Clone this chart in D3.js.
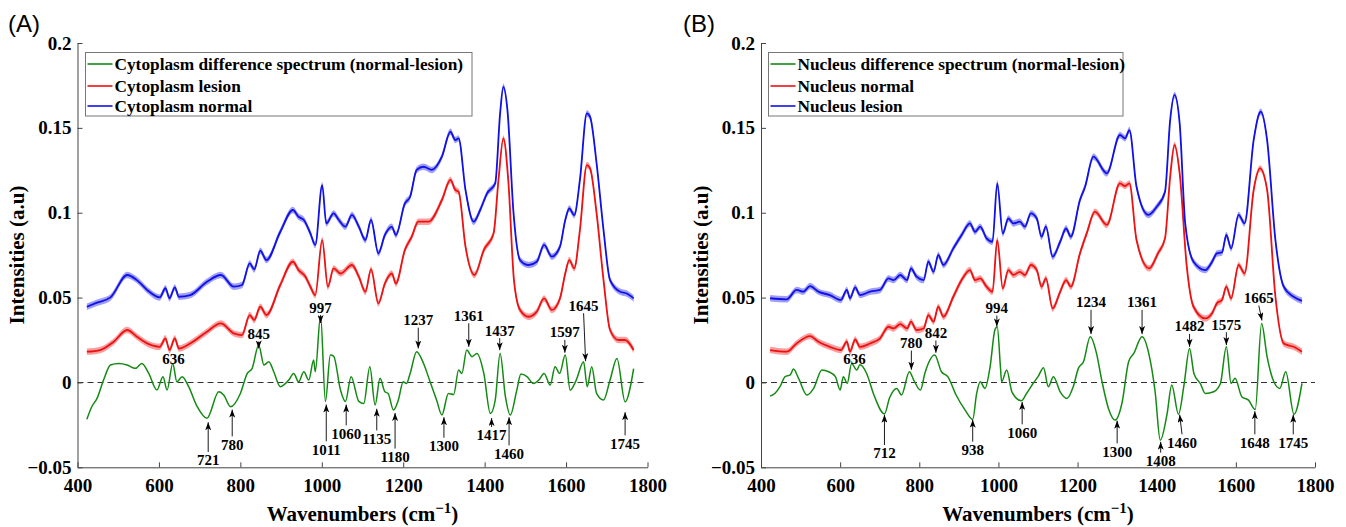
<!DOCTYPE html>
<html>
<head>
<meta charset="utf-8">
<title>Raman spectra - cytoplasm and nucleus</title>
<style>
  body { margin: 0; background: #fff; }
  text { font-family: "Liberation Serif", "Times New Roman", serif; }
</style>
</head>
<body>
<script src="https://d3js.org/d3.v7.min.js"></script>
<script>

// ---- data: [wavenumber, intensity] ----
var cytoNormal = [[423,0.0446],[448,0.047],[481,0.0501],[522,0.0633],[546,0.0603],[571,0.0545],[602,0.0501],[616,0.0555],[626,0.0496],[639,0.056],[649,0.0505],[677,0.0515],[718,0.0593],[752,0.0633],[784,0.0564],[804,0.0574],[823,0.0701],[834,0.0666],[849,0.0776],[864,0.0721],[898,0.0888],[929,0.1016],[943,0.0976],[956,0.0957],[972,0.0878],[984,0.081],[1001,0.1163],[1011,0.0937],[1029,0.0996],[1042,0.0957],[1058,0.0918],[1074,0.0987],[1091,0.0918],[1107,0.0839],[1121,0.0957],[1139,0.0761],[1155,0.0869],[1172,0.0917],[1182,0.0869],[1204,0.1055],[1217,0.1094],[1233,0.1252],[1250,0.1271],[1270,0.1252],[1295,0.133],[1316,0.1477],[1328,0.1428],[1336,0.1438],[1353,0.1134],[1373,0.0947],[1389,0.1016],[1406,0.1114],[1426,0.1173],[1438,0.1585],[1446,0.1742],[1456,0.1605],[1471,0.0996],[1487,0.0721],[1508,0.0692],[1528,0.0711],[1546,0.081],[1565,0.0741],[1585,0.08],[1598,0.0957],[1608,0.1025],[1620,0.0986],[1634,0.1193],[1651,0.1585],[1659,0.1565],[1675,0.129],[1692,0.0898],[1708,0.0603],[1733,0.0534],[1749,0.0524],[1766,0.0495]];

var cytoLesion = [[423,0.0181],[456,0.0191],[489,0.024],[522,0.0309],[546,0.0269],[571,0.023],[602,0.021],[616,0.026],[626,0.0191],[639,0.026],[649,0.02],[677,0.023],[718,0.0299],[752,0.0348],[784,0.0289],[804,0.0279],[823,0.0397],[834,0.0368],[849,0.0446],[864,0.0397],[898,0.0574],[929,0.0711],[943,0.0662],[960,0.0623],[972,0.0564],[984,0.0515],[1001,0.0839],[1015,0.0564],[1029,0.0672],[1046,0.0642],[1074,0.0692],[1091,0.0623],[1107,0.0534],[1121,0.0666],[1139,0.0466],[1155,0.0583],[1172,0.0642],[1182,0.0583],[1204,0.078],[1221,0.0859],[1237,0.0947],[1262,0.0947],[1295,0.1075],[1316,0.1193],[1328,0.1134],[1336,0.1124],[1353,0.08],[1375,0.0633],[1398,0.078],[1422,0.0878],[1434,0.1193],[1446,0.1438],[1458,0.1193],[1472,0.0603],[1487,0.0427],[1508,0.0387],[1528,0.0417],[1546,0.0495],[1565,0.0427],[1585,0.0495],[1598,0.0642],[1608,0.0721],[1620,0.0672],[1634,0.0898],[1651,0.1281],[1659,0.1261],[1675,0.0996],[1692,0.0603],[1708,0.0309],[1729,0.025],[1745,0.025],[1766,0.0191]];

var cytoDiff = [[423,-0.0217],[435,-0.0143],[448,-0.0094],[464,0.0014],[481,0.0103],[501,0.0112],[522,0.0103],[542,0.0083],[558,0.0112],[575,0.0053],[595,-0.0045],[610,0.0034],[620,-0.0045],[634,0.0112],[644,0.0004],[657,0.0034],[673,-0.0025],[694,-0.0143],[718,-0.0211],[747,-0.0055],[759,-0.0074],[776,-0.0143],[800,-0.0065],[817,0.0053],[829,0.0083],[845,0.022],[858,0.0103],[870,0.0122],[882,0.0063],[898,-0.0025],[919,0.0014],[931,0.0053],[943,0.0004],[956,0.0063],[968,0.0014],[980,0.0132],[984,0.0063],[997,0.0395],[1009,-0.0112],[1021,0.0161],[1029,0.0155],[1046,-0.0045],[1058,-0.0112],[1072,0.0034],[1091,-0.0112],[1103,-0.0124],[1118,0.0093],[1131,-0.0133],[1143,0.0024],[1155,-0.0055],[1163,-0.0065],[1176,-0.0163],[1188,-0.0104],[1200,0.0004],[1208,-0.0006],[1217,0.0053],[1233,0.0181],[1250,0.0112],[1266,0.0004],[1282,-0.0104],[1295,-0.0192],[1311,-0.0065],[1324,-0.0071],[1336,0.0073],[1344,0.0053],[1356,0.0191],[1369,0.0152],[1381,0.0171],[1398,0.0053],[1414,-0.0183],[1426,-0.0104],[1438,0.0171],[1451,-0.0084],[1463,-0.0192],[1479,-0.0045],[1489,0.0049],[1504,0.0034],[1520,-0.0006],[1533,0.0014],[1546,0.0053],[1561,-0.0015],[1573,0.0093],[1584,0.0053],[1598,0.0161],[1610,-0.0045],[1625,0.0014],[1643,0.0122],[1652,-0.0025],[1663,0.0093],[1675,-0.0065],[1692,-0.0104],[1708,0.0014],[1725,0.0141],[1745,-0.0114],[1766,0.0082]];

var nucLesion = [[423,0.0496],[465,0.049],[490,0.0545],[507,0.0535],[524,0.0568],[545,0.0535],[574,0.0515],[602,0.0486],[617,0.0545],[625,0.0496],[638,0.056],[650,0.0515],[676,0.0535],[701,0.0545],[722,0.0613],[735,0.0603],[752,0.0633],[769,0.0603],[779,0.0672],[793,0.0623],[811,0.0603],[823,0.0711],[836,0.0652],[848,0.0751],[861,0.0692],[886,0.079],[907,0.0869],[928,0.0937],[941,0.0888],[954,0.0918],[970,0.0849],[985,0.0829],[997,0.1173],[1011,0.0878],[1025,0.0966],[1038,0.0937],[1054,0.0947],[1067,0.0918],[1082,0.0996],[1097,0.0966],[1109,0.0859],[1120,0.0918],[1137,0.0741],[1156,0.0829],[1171,0.0907],[1183,0.0859],[1206,0.1075],[1219,0.1153],[1240,0.133],[1274,0.1232],[1307,0.1458],[1320,0.1438],[1331,0.1487],[1349,0.1153],[1379,0.0987],[1400,0.1035],[1421,0.1124],[1434,0.1546],[1445,0.1694],[1458,0.1526],[1472,0.0937],[1493,0.0711],[1523,0.0662],[1540,0.0711],[1552,0.076],[1565,0.0766],[1576,0.0869],[1588,0.079],[1607,0.0987],[1622,0.0937],[1645,0.1428],[1663,0.1595],[1679,0.1428],[1700,0.0839],[1721,0.0564],[1746,0.0505],[1767,0.0481]];

var nucNormal = [[423,0.0191],[465,0.0181],[490,0.023],[524,0.0273],[545,0.024],[574,0.021],[602,0.0191],[617,0.024],[625,0.0181],[638,0.0253],[650,0.021],[676,0.023],[701,0.026],[722,0.0328],[735,0.0318],[752,0.0344],[769,0.0318],[779,0.0358],[793,0.0309],[811,0.0318],[823,0.0397],[836,0.0358],[848,0.0446],[861,0.0387],[886,0.0505],[907,0.0603],[928,0.0662],[941,0.0603],[954,0.0613],[970,0.0564],[985,0.0534],[997,0.0839],[1011,0.0554],[1025,0.0662],[1038,0.0633],[1054,0.0652],[1067,0.0633],[1082,0.0692],[1097,0.0662],[1109,0.0564],[1120,0.0613],[1137,0.0436],[1156,0.0534],[1171,0.0603],[1183,0.0564],[1206,0.076],[1223,0.0878],[1244,0.1006],[1274,0.0928],[1307,0.1173],[1320,0.1157],[1331,0.1173],[1349,0.0839],[1381,0.0672],[1403,0.076],[1421,0.0849],[1434,0.1212],[1445,0.1399],[1458,0.1232],[1476,0.0682],[1493,0.0446],[1523,0.0377],[1540,0.0407],[1552,0.0466],[1565,0.0486],[1576,0.0564],[1588,0.0495],[1607,0.0692],[1622,0.0642],[1645,0.1134],[1661,0.1261],[1679,0.1134],[1700,0.0505],[1721,0.023],[1746,0.021],[1767,0.0181]];

var nucDiff = [[423,-0.008],[435,-0.0065],[448,-0.0025],[461,0.0034],[474,0.0044],[482,0.0079],[495,0.0024],[516,-0.0074],[533,-0.0035],[554,0.0073],[571,0.0063],[588,0.0034],[600,-0.0045],[608,0.0034],[618,-0.0005],[629,0.0112],[642,0.0073],[650,0.0104],[667,0.0053],[684,-0.0065],[712,-0.0185],[725,-0.009],[743,-0.0035],[755,-0.0074],[775,0.0063],[786,0.0014],[803,-0.0045],[814,0.0053],[839,0.0161],[856,0.0063],[872,0.0034],[893,-0.0074],[915,-0.016],[935,-0.0218],[945,-0.0065],[954,0.0004],[966,-0.0035],[979,0.0093],[991,0.0309],[997,0.0328],[1005,0.0093],[1008,0.0004],[1021,0.0073],[1034,-0.0055],[1058,-0.0108],[1071,-0.0065],[1088,-0.0005],[1100,0.0034],[1114,0.0087],[1126,-0.0025],[1139,0.0034],[1156,-0.0055],[1173,-0.0094],[1189,-0.0025],[1202,0.0083],[1215,0.0122],[1232,0.0269],[1248,0.017],[1261,0.0014],[1278,-0.0153],[1295,-0.0222],[1312,-0.0124],[1329,0.0122],[1342,0.0171],[1363,0.0269],[1380,0.017],[1396,-0.0055],[1409,-0.034],[1426,-0.0188],[1438,-0.0015],[1455,-0.0188],[1469,-0.0015],[1483,0.02],[1494,0.0053],[1510,-0.0006],[1523,-0.0065],[1544,-0.0055],[1561,-0.0006],[1576,0.021],[1588,-0.0006],[1598,0.0024],[1615,-0.0084],[1632,-0.0104],[1649,-0.016],[1665,0.0348],[1679,0.0151],[1696,0.0004],[1711,-0.0035],[1726,0.0063],[1747,-0.0188],[1767,-0.0006]];

// spread of the shaded bands (+/-)
var bandHalf = 0.0019;

var xTicks = [400, 600, 800, 1000, 1200, 1400, 1600, 1800];
var yTicks = [-0.05, 0, 0.05, 0.1, 0.15, 0.2];

// peak labels: [text, arrow wavenumber, label value, arrow tip value (null = no arrow), label wavenumber]
var cytoPeaks = [
  ["636", 636, 0.014, null],
  ["845", 845, 0.0288, 0.0200],
  ["997", 997, 0.0443, 0.0350],
  ["1237", 1237, 0.0370, 0.0200],
  ["1361", 1361, 0.0396, 0.0210],
  ["1437", 1437, 0.0308, 0.0190],
  ["1597", 1597, 0.0298, 0.0175],
  ["1645", 1648, 0.0455, 0.0125, 1643],
  ["721", 721, -0.0457, -0.0235],
  ["780", 780, -0.0365, -0.0160],
  ["1011", 1011, -0.0394, -0.0130],
  ["1060", 1060, -0.0300, -0.0130],
  ["1135", 1135, -0.0330, -0.0155],
  ["1180", 1180, -0.0437, -0.0180],
  ["1300", 1300, -0.0373, -0.0205],
  ["1417", 1417, -0.0310, -0.0210],
  ["1460", 1460, -0.0418, -0.0205],
  ["1745", 1745, -0.0359, -0.0175]
];
var nucPeaks = [
  ["636", 636, 0.0141, null],
  ["780", 780, 0.0235, 0.0075],
  ["842", 842, 0.0294, 0.0175],
  ["994", 996, 0.0441, 0.0330],
  ["1234", 1234, 0.0475, 0.0285],
  ["1361", 1363, 0.0475, 0.0285],
  ["1482", 1483, 0.0333, 0.0210],
  ["1575", 1576, 0.0343, 0.0220],
  ["1665", 1666, 0.0500, 0.0365, 1658],
  ["712", 712, -0.0416, -0.0190],
  ["938", 935, -0.0396, -0.0220],
  ["1060", 1060, -0.0294, -0.0115],
  ["1300", 1300, -0.0406, -0.0225],
  ["1408", 1410, -0.0461, -0.0350],
  ["1460", 1458, -0.0353, -0.0190, 1464],
  ["1648", 1648, -0.0353, -0.0170],
  ["1745", 1745, -0.0353, -0.0190]
];

var legendA = ["Cytoplasm difference spectrum (normal-lesion)", "Cytoplasm lesion", "Cytoplasm normal"];
var legendB = ["Nucleus difference spectrum (normal-lesion)", "Nucleus normal", "Nucleus lesion"];

var GREEN = "#138a13", RED = "#ee1111", BLUE = "#1010e8";
var SERIF = "'Liberation Serif', 'Times New Roman', serif";

var svg = d3.select("body").append("svg")
    .attr("width", 1346).attr("height", 527)
    .style("background", "#fff");

var defs = svg.append("defs");
defs.append("marker")
    .attr("id", "arrow")
    .attr("markerUnits", "userSpaceOnUse")
    .attr("markerWidth", 8).attr("markerHeight", 6)
    .attr("refX", 8).attr("refY", 3)
    .attr("orient", "auto")
  .append("path")
    .attr("d", "M0,0 L8,3 L0,6 L2,3 Z")
    .attr("fill", "#000");

function drawPanel(p) {
  var x = d3.scaleLinear().domain([400, 1800]).range([p.left, p.right]);
  var y = d3.scaleLinear().domain([-0.05, 0.2]).range([467.3, 43]);
  var g = svg.append("g").style("font-family", SERIF);

  // panel letter
  g.append("text").attr("x", p.tagX).attr("y", 32)
    .style("font-family", "Arial, 'Liberation Sans', sans-serif")
    .style("font-size", "24px").text(p.tag);

  // zero line
  g.append("line")
    .attr("x1", x(400)).attr("x2", x(1800))
    .attr("y1", y(0)).attr("y2", y(0))
    .attr("stroke", "#333").attr("stroke-width", 1.1)
    .attr("stroke-dasharray", "6,4");

  var line = d3.line().x(function(d) { return x(d[0]); })
      .y(function(d) { return y(d[1]); }).curve(d3.curveMonotoneX);
  var band = d3.area().x(function(d) { return x(d[0]); })
      .y0(function(d) { return y(d[1] - bandHalf); })
      .y1(function(d) { return y(d[1] + bandHalf); })
      .curve(d3.curveMonotoneX);

  // difference spectrum
  g.append("path").datum(p.diff).attr("d", line)
    .attr("fill", "none").attr("stroke", GREEN).attr("stroke-width", 1.5);

  [[p.red, RED], [p.blue, BLUE]].forEach(function(s) {
    g.append("path").datum(s[0]).attr("d", band)
      .attr("fill", s[1]).attr("fill-opacity", 0.4);
    g.append("path").datum(s[0]).attr("d", line)
      .attr("fill", "none").attr("stroke", s[1]).attr("stroke-width", 1.8);
  });

  // axes
  var ax = g.append("g").attr("transform", "translate(0," + y(-0.05) + ")")
    .call(d3.axisBottom(x).tickValues(xTicks).tickSizeInner(-5).tickSizeOuter(0).tickPadding(11)
      .tickFormat(d3.format("d")));
  var ay = g.append("g").attr("transform", "translate(" + x(400) + ",0)")
    .call(d3.axisLeft(y).tickValues(yTicks).tickSizeInner(-5).tickSizeOuter(0).tickPadding(6)
      .tickFormat(function(v) { return v === 0 ? "0" : String(v).replace("-", "\u2212"); }));
  [ax, ay].forEach(function(a) {
    a.attr("font-family", null);
    a.selectAll("path, line").attr("stroke", "#444");
    a.selectAll("text").attr("fill", "#000")
      .style("font-family", SERIF)
      .style("font-size", "19px").style("font-weight", "bold");
  });

  // axis titles
  var cx = (p.left + p.right) / 2;
  var xt = g.append("text").attr("x", cx).attr("y", 521)
    .attr("text-anchor", "middle")
    .style("font-size", "21px").style("font-weight", "bold");
  xt.append("tspan").text("Wavenumbers (cm");
  xt.append("tspan").attr("dy", -8).style("font-size", "15px").text("\u22121");
  xt.append("tspan").attr("dy", 8).text(")");

  g.append("text")
    .attr("transform", "translate(" + p.yTitleX + ",255) rotate(-90)")
    .attr("text-anchor", "middle")
    .style("font-size", "21px").style("font-weight", "bold")
    .text("Intensities (a.u)");

  // peak annotations
  p.peaks.forEach(function(a) {
    var lx = a[4] !== undefined ? a[4] : a[1];
    var ly = y(a[2]);
    g.append("text").attr("x", x(lx)).attr("y", ly).attr("dy", "0.36em")
      .attr("text-anchor", "middle")
      .style("font-size", "15px").style("font-weight", "bold")
      .text(a[0]);
    if (a[3] === null) return;
    var up = a[3] < a[2];
    g.append("line")
      .attr("x1", x(lx)).attr("y1", up ? ly + 8 : ly - 8)
      .attr("x2", x(a[1])).attr("y2", y(a[3]))
      .attr("stroke", "#000").attr("stroke-width", 0.9)
      .attr("marker-end", "url(#arrow)");
  });

  // legend
  var lg = g.append("g");
  lg.append("rect").attr("x", p.legX).attr("y", 52.5)
    .attr("width", p.legW).attr("height", 63.5)
    .attr("fill", "#fff").attr("stroke", "#777").attr("stroke-width", 1);
  var rowsY = [64, 86, 106];
  [GREEN, RED, BLUE].forEach(function(c, i) {
    lg.append("line").attr("x1", p.legX + 2).attr("x2", p.legX + 27)
      .attr("y1", rowsY[i]).attr("y2", rowsY[i])
      .attr("stroke", c).attr("stroke-width", 1.6);
    lg.append("text").attr("x", p.legX + 29).attr("y", rowsY[i] + 6)
      .style("font-size", "17.3px").style("font-weight", "bold")
      .text(p.legend[i]);
  });
}

drawPanel({ tag: "(A)", tagX: 8, left: 77.5, right: 647.5, yTitleX: 24,
  diff: cytoDiff, red: cytoLesion, blue: cytoNormal, peaks: cytoPeaks,
  legend: legendA, legX: 85.5, legW: 386.5 });

drawPanel({ tag: "(B)", tagX: 683, left: 761, right: 1315, yTitleX: 708,
  diff: nucDiff, red: nucNormal, blue: nucLesion, peaks: nucPeaks,
  legend: legendB, legX: 768.5, legW: 354.5 });

</script>
</body>
</html>
